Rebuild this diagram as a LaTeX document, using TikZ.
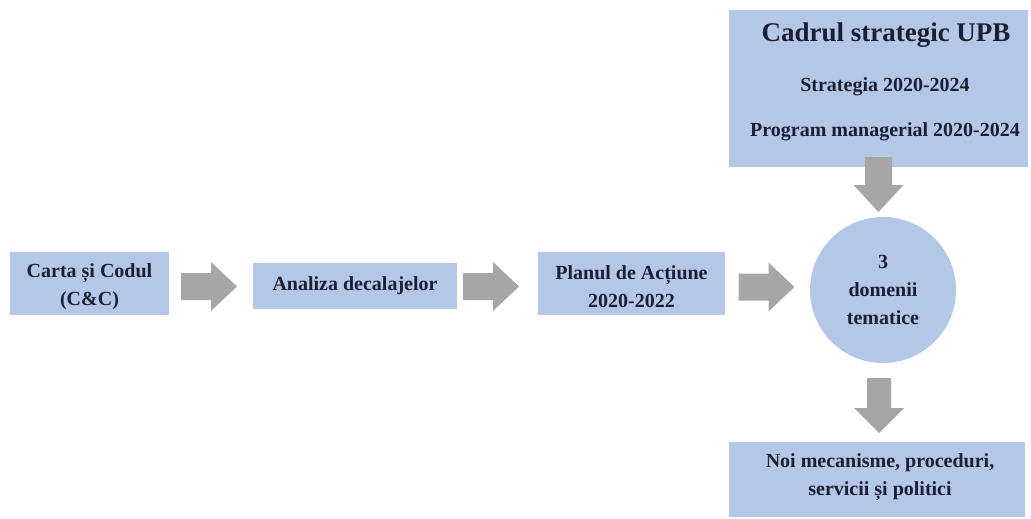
\documentclass[tikz,border=0pt]{standalone}
\usepackage{fontspec}
\setmainfont{Liberation Serif}
\definecolor{boxblue}{HTML}{B4C7E7}
\definecolor{arrgray}{HTML}{A6A6A6}
\definecolor{txt}{HTML}{1A1F33}
\tikzset{
  box/.style={fill=boxblue, draw=none, inner sep=0pt, align=center, text=txt,
    font=\fontsize{20}{28}\selectfont\bfseries},
  txtnode/.style={inner sep=0pt, align=center, text=txt, font=\fontsize{20}{28}\selectfont\bfseries},
  arrowfill/.style={fill=arrgray, draw=none}
}
\begin{document}
\begin{tikzpicture}[x=1pt,y=-1pt]
\useasboundingbox (0,0) rectangle (1031,519);
% boxes
\node[box, minimum width=159pt, minimum height=63pt] (cc) at (89.5,283.5) {};
\node[txtnode] (cct) at (89.5,286.5) {Carta și Codul\\(C\&C)};
\node[box, minimum width=204pt, minimum height=46pt] (ad) at (355,286)
  {Analiza decalajelor};
\node[box, minimum width=187pt, minimum height=63pt] (pa) at (631.5,283.5) {};
\node[txtnode] (pat) at (631.5,286.5) {Planul de Acțiune\\2020-2022};
\node[box, circle, minimum size=146pt] (dt) at (883,290)
  {3\\domenii\\tematice};
\node[box, minimum width=299pt, minimum height=156pt] (cs) at (878.5,88.5) {};
\node[txtnode, font=\fontsize{27}{30}\selectfont\bfseries] (t1) at (886,35) {Cadrul strategic UPB};
\node[txtnode] (t2) at (885,87) {Strategia 2020-2024};
\node[txtnode] (t3) at (885,132) {Program managerial 2020-2024};
\node[box, minimum width=296pt, minimum height=75pt] (nm) at (877,479.5) {};
\node[txtnode] (nmt) at (880,477) {Noi mecanisme, proceduri,\\servicii și politici};
% block arrows
\coordinate (a1) at (209,286.5);
\coordinate (a2) at (491,286.5);
\coordinate (a3) at (766.5,287);
\coordinate (a4) at (878.5,184.5);
\coordinate (a5) at (879,405.5);
\foreach \c in {a1,a2,a3}{
  \fill[arrowfill, shift={(\c)}] (-28,-13.5) -- (2,-13.5) -- (2,-24.5) -- (28,0)
    -- (2,24.5) -- (2,13.5) -- (-28,13.5) -- cycle;
}
\fill[arrowfill, shift={(a4)}] (-13.5,-27.5) -- (13.5,-27.5) -- (13.5,0.5) -- (25,0.5)
  -- (0,27.5) -- (-25,0.5) -- (-13.5,0.5) -- cycle;
\fill[arrowfill, shift={(a5)}] (-12,-27.5) -- (12,-27.5) -- (12,2.5) -- (25,2.5)
  -- (0,27.5) -- (-25,2.5) -- (-12,2.5) -- cycle;
\end{tikzpicture}
\end{document}
